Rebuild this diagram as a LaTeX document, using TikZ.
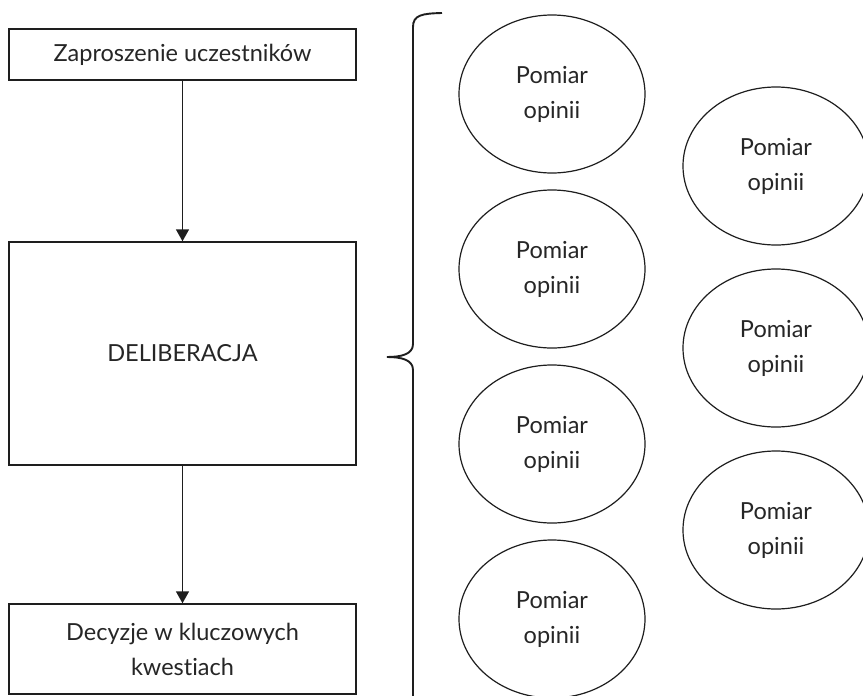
\documentclass[tikz,border=0pt]{standalone}
\usepackage{fontspec}
\setmainfont{Lato}[Ligatures={NoCommon}]
\usetikzlibrary{arrows.meta,shapes.geometric}
\definecolor{txt}{HTML}{262626}
\definecolor{ln}{HTML}{1E1E1E}
\begin{document}
\begin{tikzpicture}[x=1pt,y=-1pt,
  lbl/.style={text=txt, font=\fontsize{23.5}{35}\selectfont, align=center},
  box/.style={lbl, draw=ln, line width=1.4pt, rectangle, inner sep=0pt, minimum width=347pt},
  opinion/.style={lbl, draw=ln, line width=1.2pt, ellipse, inner sep=0pt, minimum width=186pt, minimum height=158pt},
  flow/.style={draw=ln, line width=1.4pt, -{Triangle[width=13pt,length=12pt]}}
]
\useasboundingbox (0,0) rectangle (863,696);
\fill[white] (0,0) rectangle (863,696);

\node[box, minimum height=51pt] (b1) at (182.5,54.5) {Zaproszenie uczestników};
\node[box, minimum height=223pt] (b2) at (182.5,353.5) {DELIBERACJA};
\node[box, minimum height=90pt] (b3) at (182.5,649) {Decyzje w kluczowych\\kwestiach};

\draw[flow] (b1) -- (b2);
\draw[flow] (b2) -- (b3);

\draw[ln, line width=1.9pt] (442,13) .. controls (422,13.5) and (413,15) .. (413,27)
  -- (413,344) .. controls (413,354) and (402,357) .. (387,357)
  .. controls (402,357) and (413,360) .. (413,370) -- (413,700);

\node[opinion] (l1) at (552,94) {Pomiar\\opinii};
\node[opinion] (l2) at (552,269) {Pomiar\\opinii};
\node[opinion] (l3) at (552,444) {Pomiar\\opinii};
\node[opinion] (l4) at (552,619) {Pomiar\\opinii};
\node[opinion] (r1) at (776,166) {Pomiar\\opinii};
\node[opinion] (r2) at (776,348) {Pomiar\\opinii};
\node[opinion] (r3) at (776,530) {Pomiar\\opinii};
\end{tikzpicture}
\end{document}
